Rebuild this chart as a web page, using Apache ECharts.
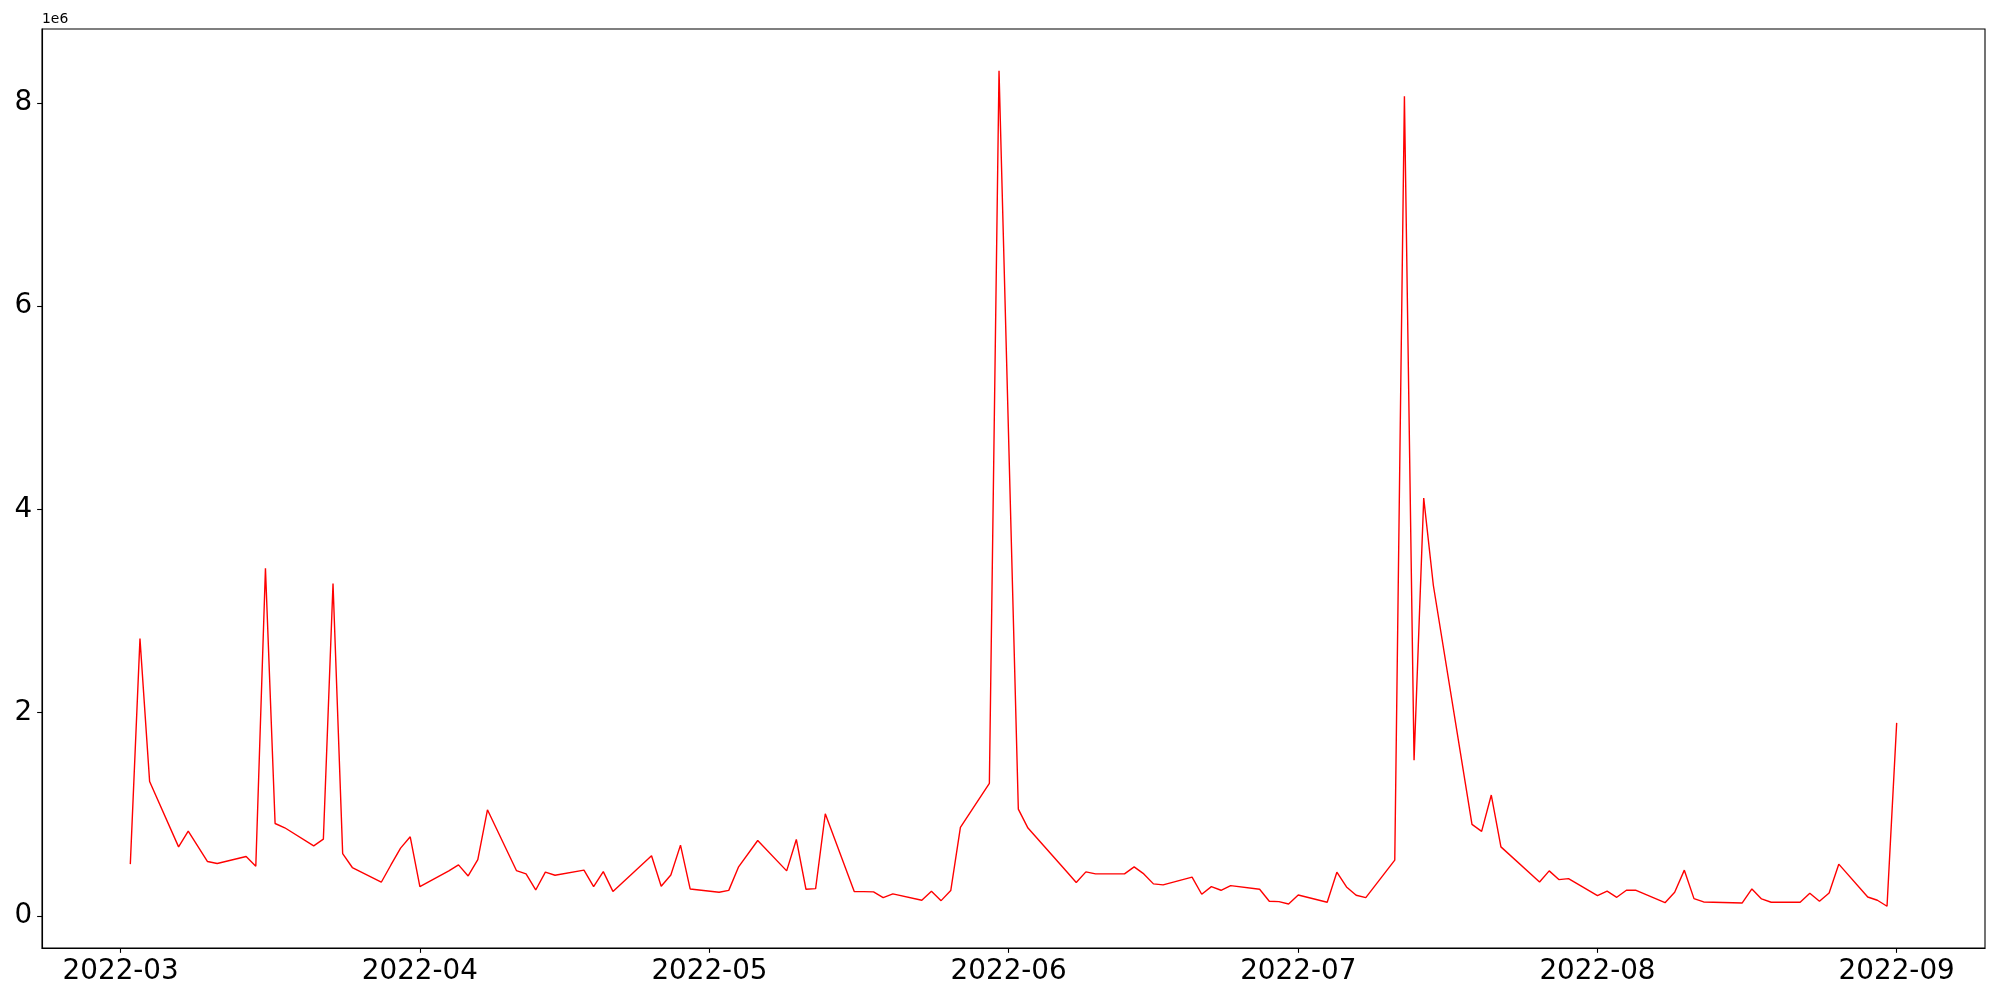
<!DOCTYPE html>
<html>
<head>
<meta charset="utf-8">
<script src="https://cdn.jsdelivr.net/npm/echarts@6/dist/echarts.min.js"></script>
<style>
  html, body { margin: 0; padding: 0; background: #fff; }
  #chart { width: 2000px; height: 1000px; }
</style>
</head>
<body>
<div id="chart"></div>
<script>
// ---- data ----
const dates = [
  '2022-03-02','2022-03-03','2022-03-04','2022-03-07','2022-03-08','2022-03-10','2022-03-11',
  '2022-03-14','2022-03-15','2022-03-16','2022-03-17','2022-03-18','2022-03-21','2022-03-22',
  '2022-03-23','2022-03-24','2022-03-25','2022-03-28','2022-03-29','2022-03-30','2022-03-31',
  '2022-04-01','2022-04-04','2022-04-05','2022-04-06','2022-04-07','2022-04-08','2022-04-11',
  '2022-04-12','2022-04-13','2022-04-14','2022-04-15','2022-04-18','2022-04-19','2022-04-20',
  '2022-04-21','2022-04-25','2022-04-26','2022-04-27','2022-04-28','2022-04-29','2022-05-02',
  '2022-05-03','2022-05-04','2022-05-06','2022-05-09','2022-05-10','2022-05-11','2022-05-12',
  '2022-05-13','2022-05-16','2022-05-17','2022-05-18','2022-05-19','2022-05-20','2022-05-23',
  '2022-05-24','2022-05-25','2022-05-26','2022-05-27','2022-05-30','2022-05-31','2022-06-02',
  '2022-06-03','2022-06-07','2022-06-08','2022-06-09','2022-06-10','2022-06-13','2022-06-14',
  '2022-06-15','2022-06-16','2022-06-17','2022-06-20','2022-06-21','2022-06-22','2022-06-23',
  '2022-06-24','2022-06-27','2022-06-28','2022-06-29','2022-06-30','2022-07-01','2022-07-04',
  '2022-07-05','2022-07-06','2022-07-07','2022-07-08','2022-07-11','2022-07-12','2022-07-13',
  '2022-07-14','2022-07-15','2022-07-19','2022-07-20','2022-07-21','2022-07-22','2022-07-26',
  '2022-07-27','2022-07-28','2022-07-29','2022-08-01','2022-08-02','2022-08-03','2022-08-04',
  '2022-08-05','2022-08-08','2022-08-09','2022-08-10','2022-08-11','2022-08-12','2022-08-16',
  '2022-08-17','2022-08-18','2022-08-19','2022-08-22','2022-08-23','2022-08-24','2022-08-25',
  '2022-08-26','2022-08-29','2022-08-30','2022-08-31','2022-09-01'
];
const values = [
  508000, 2727000, 1322000, 678000, 833000, 534000, 514000,
  583000, 488000, 3420000, 908000, 866000, 688000, 754000,
  3269000, 612000, 475000, 330000, 500000, 666000, 777000,
  287000, 442000, 501000, 392000, 553000, 1043000, 445000,
  412000, 254000, 429000, 399000, 449000, 286000, 435000,
  240000, 591000, 290000, 402000, 695000, 264000, 232000,
  250000, 478000, 741000, 442000, 751000, 261000, 267000,
  1004000, 238000, 238000, 235000, 179000, 215000, 153000,
  242000, 149000, 248000, 869000, 1303000, 8315000, 1050000,
  863000, 435000, 327000, 432000, 412000, 412000, 481000,
  412000, 314000, 304000, 380000, 212000, 287000, 251000,
  297000, 261000, 143000, 139000, 116000, 205000, 133000,
  429000, 284000, 202000, 179000, 547000, 8063000, 1530000,
  4110000, 3250000, 900000, 830000, 1188000, 678000, 333000,
  442000, 356000, 366000, 198000, 242000, 182000, 251000,
  251000, 129000, 232000, 449000, 169000, 136000, 126000,
  264000, 166000, 133000, 133000, 222000, 143000, 225000,
  508000, 185000, 153000, 94000, 1898000
];
const xTickDates = ['2022-03-01','2022-04-01','2022-05-01','2022-06-01','2022-07-01','2022-08-01','2022-09-01'];
const yTickValues = [0, 2000000, 4000000, 6000000, 8000000];
const offsetLabel = '1e6';

// ---- helpers ----
function parseDate(s) {
  const p = s.split('-').map(Number);
  return new Date(p[0], p[1] - 1, p[2]).getTime();
}
function pad2(n) { return (n < 10 ? '0' : '') + n; }

const times = dates.map(parseDate);
const seriesData = times.map((t, i) => [t, values[i]]);
const xTicks = xTickDates.map(parseDate);

// matplotlib-like 5% margins
const tMin = Math.min.apply(null, times), tMax = Math.max.apply(null, times);
const vMin = Math.min.apply(null, values), vMax = Math.max.apply(null, values);
const tPad = (tMax - tMin) * 0.05, vPad = (vMax - vMin) * 0.05;

const FONT = 'DejaVu Sans';
const chart = echarts.init(document.getElementById('chart'), null, { renderer: 'canvas' });
chart.setOption({
  animation: false,
  backgroundColor: '#ffffff',
  title: {
    text: offsetLabel,
    left: 42, top: 12, padding: 0,
    textStyle: { fontFamily: FONT, fontSize: 13.9, fontWeight: 'normal', color: '#000' }
  },
  grid: {
    left: 42, right: 15, top: 29, bottom: 52,
    show: true, borderColor: '#000', borderWidth: 1.1, backgroundColor: 'transparent'
  },
  xAxis: {
    type: 'value',
    min: tMin - tPad,
    max: tMax + tPad,
    splitLine: { show: false },
    axisLine: { show: true, onZero: false, lineStyle: { color: '#000', width: 1.1 } },
    axisTick: { show: true, customValues: xTicks, length: 4.86, inside: false,
                lineStyle: { color: '#000', width: 1.1 } },
    axisLabel: {
      customValues: xTicks,
      margin: 9.7,
      fontFamily: FONT, fontSize: 27.8, color: '#000',
      formatter: function (v) {
        const d = new Date(v);
        return d.getFullYear() + '-' + pad2(d.getMonth() + 1);
      }
    }
  },
  yAxis: {
    type: 'value',
    min: vMin - vPad,
    max: vMax + vPad,
    splitLine: { show: false },
    axisLine: { show: true, onZero: false, lineStyle: { color: '#000', width: 1.1 } },
    axisTick: { show: true, customValues: yTickValues, length: 4.86, inside: false,
                lineStyle: { color: '#000', width: 1.1 } },
    axisLabel: {
      customValues: yTickValues,
      margin: 9.7,
      fontFamily: FONT, fontSize: 27.8, color: '#000',
      formatter: function (v) { return String(Math.round(v / 1e6)); }
    }
  },
  series: [{
    type: 'line',
    data: seriesData,
    showSymbol: false,
    symbol: 'none',
    lineStyle: { color: '#ff0000', width: 1.4 },
    emphasis: { disabled: true }
  }]
});
</script>
</body>
</html>
